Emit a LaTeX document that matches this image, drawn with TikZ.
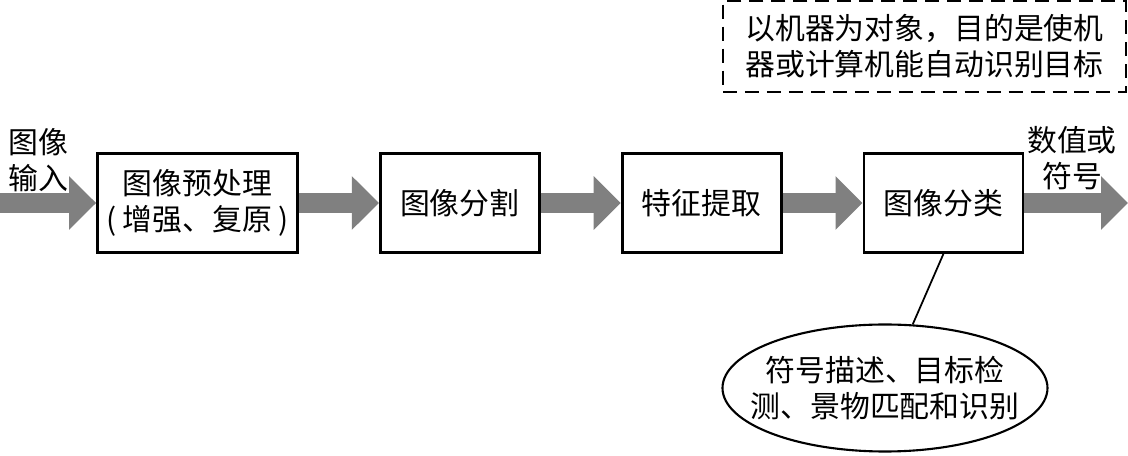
\documentclass[tikz,border=0pt]{standalone}
\usepackage{fontspec}
\newfontfamily\cjk{Noto Sans CJK SC}
\usepackage{xcolor}
\definecolor{flowgray}{RGB}{128, 128, 128}
\usepackage{tikz}
\usetikzlibrary{shapes,arrows.meta,positioning}

\begin{document}
\begin{tikzpicture}[
  node distance=1.6cm,
  stagebox/.style={draw, line width=1.6pt, font=\fontsize{17}{20.5}\selectfont\cjk, align=center, inner sep=2pt, minimum width=3.18cm, minimum height=1.98cm},
  note/.style={font=\fontsize{17}{20.5}\selectfont\cjk, align=center, inner sep=0pt},
  flow/.style={-{Triangle[length=0.54cm, width=1.04cm]}, line width=0.4cm, color=flowgray}
]
\useasboundingbox (0,0) rectangle (22.56,9.12);
\node[stagebox, minimum width=4.0cm] (pre) at (3.95,5.06) {图像预处理\\( 增强、复原 )};
\node[stagebox, right=of pre] (seg) {图像分割};
\node[stagebox, right=of seg] (feat) {特征提取};
\node[stagebox, right=of feat] (cls) {图像分类};
\coordinate (in) at (0,5.06);
\coordinate (out) at (22.56,5.06);

\node[note] (inlabel) at (0.76,5.92) {图像\\输入};
\node[note] (outlabel) at (21.44,5.96) {数值或\\符号};
\node[note, draw, dash pattern=on 8pt off 4.5pt, line width=1.1pt, minimum width=8.06cm, minimum height=1.82cm] (goal) at (18.49,8.19) {以机器为对象，目的是使机\\器或计算机能自动识别目标};
\node[note, ellipse, draw, line width=1.2pt, inner xsep=-0.4cm, inner ysep=0pt, minimum width=6.5cm, minimum height=2.54cm] (task) at (17.7,1.36) {符号描述、目标检\\测、景物匹配和识别};

\draw[flow] (in) -- (pre);
\draw[flow] (pre) -- (seg);
\draw[flow] (seg) -- (feat);
\draw[flow] (feat) -- (cls);
\draw[flow] (cls) -- (out);
\draw[line width=1pt] (cls.south) -- (task);
\end{tikzpicture}
\end{document}
